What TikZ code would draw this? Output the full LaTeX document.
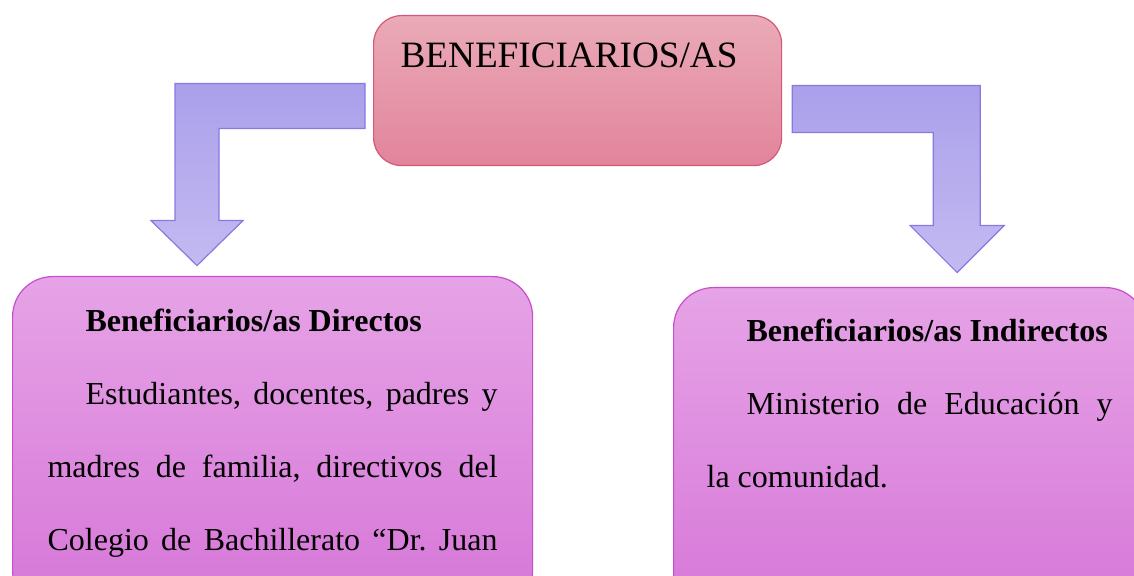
\documentclass[tikz,border=0pt]{standalone}
\usepackage{fontspec}
\setmainfont{Liberation Serif}
\definecolor{titletop}{RGB}{234,170,183}
\definecolor{titlebot}{RGB}{226,132,155}
\definecolor{titleline}{RGB}{213,88,120}
\definecolor{arrowtop}{RGB}{170,160,235}
\definecolor{arrowbot}{RGB}{196,186,241}
\definecolor{arrowline}{RGB}{136,120,226}
\definecolor{boxtop}{RGB}{230,163,230}
\definecolor{boxbot}{RGB}{214,118,216}
\definecolor{boxline}{RGB}{200,78,205}
\newcommand{\fullline}[1]{\makebox[\linewidth][s]{#1}}

\begin{document}
\begin{tikzpicture}[x=0.5pt, y=-0.5pt,
    box/.style={draw=boxline, line width=0.6pt, rounded corners=20pt, top color=boxtop, bottom color=boxbot, anchor=north west, inner ysep=0pt,
        font=\fontsize{16}{36.5}\selectfont, execute at begin node={\frenchspacing\spaceskip=0pt\xspaceskip=0pt\relax}},
    bigarrow/.style={draw=arrowline, line width=0.6pt, top color=arrowtop, bottom color=arrowbot}
]
    \useasboundingbox (0,0) rectangle (1134,576);
    \clip (0,0) rectangle (1134,576);

    % Title
    \node[draw=titleline, line width=0.6pt, rounded corners=14pt, top color=titletop, bottom color=titlebot,
          anchor=north west, inner xsep=13.5pt, inner ysep=0pt, text width=177pt, text height=26pt, text depth=49pt,
          font=\fontsize{18.6}{22}\selectfont] (title) at (373,15) {BENEFICIARIOS/AS};

    % Boxes
    \node[box, inner xsep=17.5pt, text width=225pt, text height=27.5pt, text depth=139.5pt] (direct) at (12,276) {
        \hspace*{19pt}\textbf{Beneficiarios/as Directos}\\
        \fullline{\hspace*{19pt}Estudiantes, docentes, padres y}\\
        \fullline{madres de familia, directivos del}\\
        \fullline{Colegio de Bachillerato “Dr. Juan}
    };
    \node[box, inner xsep=16.5pt, text width=203pt, text height=27pt, text depth=140pt] (indirect) at (673,287) {
        \hspace*{20pt}\textbf{Beneficiarios/as Indirectos}\\
        \fullline{\hspace*{20pt}Ministerio de Educación y}\\
        la comunidad.
    };

    % Arrows
    \draw[bigarrow] ([xshift=-4pt, yshift=3.5pt]title.west) --++(-190,0) --++(0,137) --++(-24,0) --++(46,45)
        --++(46,-45) --++(-24,0) --++(0,-92) --++(146,0) -- cycle;
    \draw[bigarrow] ([xshift=5pt, yshift=2.5pt]title.east) --++(188,0) --++(0,140) --++(24,0) --++(-47,47)
        --++(-47,-47) --++(23,0) --++(0,-93) --++(-141,0) -- cycle;
\end{tikzpicture}
\end{document}
